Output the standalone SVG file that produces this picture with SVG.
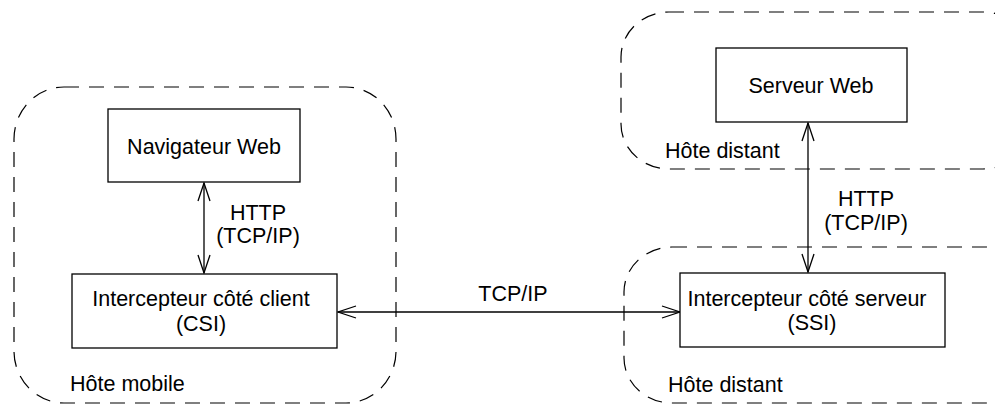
<svg xmlns="http://www.w3.org/2000/svg" width="995" height="405" viewBox="0 0 995 405">
<style>
.host{fill:none;stroke:#000;stroke-width:1.2;stroke-dasharray:15 10}
.box{fill:#fff;stroke:#000;stroke-width:1.3}
.conn{fill:none;stroke:#000;stroke-width:1.3}
text{font-family:"Liberation Sans",Arial,sans-serif;font-size:21.5px;fill:#000}
.c{text-anchor:middle}
</style>
<defs>
<marker id="a" markerUnits="userSpaceOnUse" markerWidth="24" markerHeight="16" viewBox="-20 -8 24 16" refX="0" refY="0" orient="auto-start-reverse">
<path d="M-18,-6 L0,0 L-18,6" fill="none" stroke="#000" stroke-width="1.3"/>
</marker>
</defs>
<g id="host-mobile">
<rect class="host" x="14" y="87" width="382" height="316" rx="50" ry="52"/>
<text x="70" y="391">Hôte mobile</text>
</g>
<g id="host-distant-top">
<rect class="host" x="621" y="12" width="410" height="157" rx="48" ry="45"/>
<text x="665" y="158">Hôte distant</text>
</g>
<g id="host-distant-bottom">
<rect class="host" x="624" y="247" width="410" height="156" rx="48" ry="45"/>
<text x="668" y="392">Hôte distant</text>
</g>
<g id="connectors">
<line class="conn" x1="204" y1="183" x2="204" y2="273" marker-start="url(#a)" marker-end="url(#a)"/>
<text class="c" x="258" y="220">HTTP</text>
<text class="c" x="258" y="243">(TCP/IP)</text>
<line class="conn" x1="808" y1="123" x2="808" y2="272" marker-start="url(#a)" marker-end="url(#a)"/>
<text class="c" x="866" y="206">HTTP</text>
<text class="c" x="866" y="230">(TCP/IP)</text>
<line class="conn" x1="338" y1="312" x2="680" y2="312" marker-start="url(#a)" marker-end="url(#a)"/>
<text class="c" x="513" y="301">TCP/IP</text>
</g>
<g id="navigateur">
<rect class="box" x="108" y="109" width="192" height="73"/>
<text class="c" x="204" y="154">Navigateur Web</text>
</g>
<g id="csi">
<rect class="box" x="72" y="274" width="265" height="74"/>
<text class="c" x="201" y="306">Intercepteur côté client</text>
<text class="c" x="201" y="331">(CSI)</text>
</g>
<g id="serveur">
<rect class="box" x="716" y="48" width="191" height="74"/>
<text class="c" x="811" y="93">Serveur Web</text>
</g>
<g id="ssi">
<rect class="box" x="680" y="273" width="265" height="74"/>
<text class="c" x="807" y="306">Intercepteur côté serveur</text>
<text class="c" x="812" y="330">(SSI)</text>
</g>
</svg>
